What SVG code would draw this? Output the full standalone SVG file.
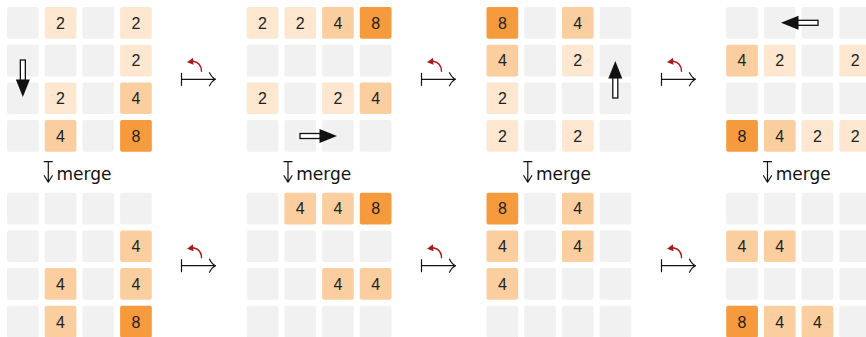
<svg xmlns="http://www.w3.org/2000/svg" xmlns:xlink="http://www.w3.org/1999/xlink" width="866" height="337" viewBox="0 0 866 337">
<style>
rect.e{fill:#f1f1f1}
rect.c2{fill:#fde7d1}
rect.c4{fill:#fbcea0}
rect.c8{fill:#f59b3e}
text.n{font-family:"Liberation Sans","DejaVu Sans",sans-serif;font-size:16px;fill:#222;text-anchor:middle}
text.m{font-family:"DejaVu Sans","Liberation Sans",sans-serif;font-size:18.5px;fill:#111}
.ln{fill:none;stroke:#111;stroke-width:1.2;stroke-linecap:round;stroke-linejoin:round}
.rd{fill:none;stroke:#a51d1d;stroke-width:1.4;stroke-linecap:round}
</style>
<defs>
<g id="mapsto">
<path class="ln" d="M0,-6 V6 M0,0 H33.5 M28,-6.5 Q30.5,-1.5 34,0 Q30.5,1.5 28,6.5"/>
<path class="rd" d="M20,-8 C20,-13 17,-17 11.5,-18"/>
<polygon points="5.5,-17 11.5,-21.5 12,-14.5" fill="#a51d1d"/>
</g>
<g id="dbl">
<rect x="0" y="-2.5" width="20.5" height="5" fill="#fff" stroke="#111" stroke-width="1.3"/>
<polygon points="19.5,-7 37,0 19.5,7" fill="#111"/>
</g>
<g id="mergearrow">
<path class="ln" d="M-4,0 H4 M0,0 V20 M-4,14 Q-1.5,18 0,20.5 Q1.5,18 4,14"/>
</g>
</defs>

<g id="grid-top-1">
<rect class="e" x="7" y="7" width="31.7" height="31.7" rx="2"/>
<rect class="c2" x="44.7" y="7" width="31.7" height="31.7" rx="2"/><text class="n" x="60.55" y="28.75">2</text>
<rect class="e" x="82.4" y="7" width="31.7" height="31.7" rx="2"/>
<rect class="c2" x="120.1" y="7" width="31.7" height="31.7" rx="2"/><text class="n" x="135.95" y="28.75">2</text>
<rect class="e" x="7" y="44.7" width="31.7" height="31.7" rx="2"/>
<rect class="e" x="44.7" y="44.7" width="31.7" height="31.7" rx="2"/>
<rect class="e" x="82.4" y="44.7" width="31.7" height="31.7" rx="2"/>
<rect class="c2" x="120.1" y="44.7" width="31.7" height="31.7" rx="2"/><text class="n" x="135.95" y="66.45">2</text>
<rect class="e" x="7" y="82.4" width="31.7" height="31.7" rx="2"/>
<rect class="c2" x="44.7" y="82.4" width="31.7" height="31.7" rx="2"/><text class="n" x="60.55" y="104.15">2</text>
<rect class="e" x="82.4" y="82.4" width="31.7" height="31.7" rx="2"/>
<rect class="c4" x="120.1" y="82.4" width="31.7" height="31.7" rx="2"/><text class="n" x="135.95" y="104.15">4</text>
<rect class="e" x="7" y="120.1" width="31.7" height="31.7" rx="2"/>
<rect class="c4" x="44.7" y="120.1" width="31.7" height="31.7" rx="2"/><text class="n" x="60.55" y="141.85">4</text>
<rect class="e" x="82.4" y="120.1" width="31.7" height="31.7" rx="2"/>
<rect class="c8" x="120.1" y="120.1" width="31.7" height="31.7" rx="2"/><text class="n" x="135.95" y="141.85">8</text>
<use xlink:href="#dbl" transform="translate(22.85,60) rotate(90)"/>
</g>

<g id="grid-top-2">
<rect class="c2" x="246.7" y="7" width="31.7" height="31.7" rx="2"/><text class="n" x="262.55" y="28.75">2</text>
<rect class="c2" x="284.4" y="7" width="31.7" height="31.7" rx="2"/><text class="n" x="300.25" y="28.75">2</text>
<rect class="c4" x="322.1" y="7" width="31.7" height="31.7" rx="2"/><text class="n" x="337.95" y="28.75">4</text>
<rect class="c8" x="359.8" y="7" width="31.7" height="31.7" rx="2"/><text class="n" x="375.65" y="28.75">8</text>
<rect class="e" x="246.7" y="44.7" width="31.7" height="31.7" rx="2"/>
<rect class="e" x="284.4" y="44.7" width="31.7" height="31.7" rx="2"/>
<rect class="e" x="322.1" y="44.7" width="31.7" height="31.7" rx="2"/>
<rect class="e" x="359.8" y="44.7" width="31.7" height="31.7" rx="2"/>
<rect class="c2" x="246.7" y="82.4" width="31.7" height="31.7" rx="2"/><text class="n" x="262.55" y="104.15">2</text>
<rect class="e" x="284.4" y="82.4" width="31.7" height="31.7" rx="2"/>
<rect class="c2" x="322.1" y="82.4" width="31.7" height="31.7" rx="2"/><text class="n" x="337.95" y="104.15">2</text>
<rect class="c4" x="359.8" y="82.4" width="31.7" height="31.7" rx="2"/><text class="n" x="375.65" y="104.15">4</text>
<rect class="e" x="246.7" y="120.1" width="31.7" height="31.7" rx="2"/>
<rect class="e" x="284.4" y="120.1" width="31.7" height="31.7" rx="2"/>
<rect class="e" x="322.1" y="120.1" width="31.7" height="31.7" rx="2"/>
<rect class="e" x="359.8" y="120.1" width="31.7" height="31.7" rx="2"/>
<use xlink:href="#dbl" transform="translate(300,136)"/>
</g>

<g id="grid-top-3">
<rect class="c8" x="486.5" y="7" width="31.7" height="31.7" rx="2"/><text class="n" x="502.35" y="28.75">8</text>
<rect class="e" x="524.2" y="7" width="31.7" height="31.7" rx="2"/>
<rect class="c4" x="561.9" y="7" width="31.7" height="31.7" rx="2"/><text class="n" x="577.75" y="28.75">4</text>
<rect class="e" x="599.6" y="7" width="31.7" height="31.7" rx="2"/>
<rect class="c4" x="486.5" y="44.7" width="31.7" height="31.7" rx="2"/><text class="n" x="502.35" y="66.45">4</text>
<rect class="e" x="524.2" y="44.7" width="31.7" height="31.7" rx="2"/>
<rect class="c2" x="561.9" y="44.7" width="31.7" height="31.7" rx="2"/><text class="n" x="577.75" y="66.45">2</text>
<rect class="e" x="599.6" y="44.7" width="31.7" height="31.7" rx="2"/>
<rect class="c2" x="486.5" y="82.4" width="31.7" height="31.7" rx="2"/><text class="n" x="502.35" y="104.15">2</text>
<rect class="e" x="524.2" y="82.4" width="31.7" height="31.7" rx="2"/>
<rect class="e" x="561.9" y="82.4" width="31.7" height="31.7" rx="2"/>
<rect class="e" x="599.6" y="82.4" width="31.7" height="31.7" rx="2"/>
<rect class="c2" x="486.5" y="120.1" width="31.7" height="31.7" rx="2"/><text class="n" x="502.35" y="141.85">2</text>
<rect class="e" x="524.2" y="120.1" width="31.7" height="31.7" rx="2"/>
<rect class="c2" x="561.9" y="120.1" width="31.7" height="31.7" rx="2"/><text class="n" x="577.75" y="141.85">2</text>
<rect class="e" x="599.6" y="120.1" width="31.7" height="31.7" rx="2"/>
<use xlink:href="#dbl" transform="translate(615.3,98) rotate(-90)"/>
</g>

<g id="grid-top-4">
<rect class="e" x="726.2" y="7" width="31.7" height="31.7" rx="2"/>
<rect class="e" x="763.9" y="7" width="31.7" height="31.7" rx="2"/>
<rect class="e" x="801.6" y="7" width="31.7" height="31.7" rx="2"/>
<rect class="e" x="839.3" y="7" width="31.7" height="31.7" rx="2"/>
<rect class="c4" x="726.2" y="44.7" width="31.7" height="31.7" rx="2"/><text class="n" x="742.05" y="66.45">4</text>
<rect class="c2" x="763.9" y="44.7" width="31.7" height="31.7" rx="2"/><text class="n" x="779.75" y="66.45">2</text>
<rect class="e" x="801.6" y="44.7" width="31.7" height="31.7" rx="2"/>
<rect class="c2" x="839.3" y="44.7" width="31.7" height="31.7" rx="2"/><text class="n" x="855.15" y="66.45">2</text>
<rect class="e" x="726.2" y="82.4" width="31.7" height="31.7" rx="2"/>
<rect class="e" x="763.9" y="82.4" width="31.7" height="31.7" rx="2"/>
<rect class="e" x="801.6" y="82.4" width="31.7" height="31.7" rx="2"/>
<rect class="e" x="839.3" y="82.4" width="31.7" height="31.7" rx="2"/>
<rect class="c8" x="726.2" y="120.1" width="31.7" height="31.7" rx="2"/><text class="n" x="742.05" y="141.85">8</text>
<rect class="c4" x="763.9" y="120.1" width="31.7" height="31.7" rx="2"/><text class="n" x="779.75" y="141.85">4</text>
<rect class="c2" x="801.6" y="120.1" width="31.7" height="31.7" rx="2"/><text class="n" x="817.45" y="141.85">2</text>
<rect class="c2" x="839.3" y="120.1" width="31.7" height="31.7" rx="2"/><text class="n" x="855.15" y="141.85">2</text>
<use xlink:href="#dbl" transform="translate(818,22.8) rotate(180)"/>
</g>

<g id="grid-bottom-1">
<rect class="e" x="7" y="192.7" width="31.7" height="31.7" rx="2"/>
<rect class="e" x="44.7" y="192.7" width="31.7" height="31.7" rx="2"/>
<rect class="e" x="82.4" y="192.7" width="31.7" height="31.7" rx="2"/>
<rect class="e" x="120.1" y="192.7" width="31.7" height="31.7" rx="2"/>
<rect class="e" x="7" y="230.4" width="31.7" height="31.7" rx="2"/>
<rect class="e" x="44.7" y="230.4" width="31.7" height="31.7" rx="2"/>
<rect class="e" x="82.4" y="230.4" width="31.7" height="31.7" rx="2"/>
<rect class="c4" x="120.1" y="230.4" width="31.7" height="31.7" rx="2"/><text class="n" x="135.95" y="252.15">4</text>
<rect class="e" x="7" y="268.1" width="31.7" height="31.7" rx="2"/>
<rect class="c4" x="44.7" y="268.1" width="31.7" height="31.7" rx="2"/><text class="n" x="60.55" y="289.85">4</text>
<rect class="e" x="82.4" y="268.1" width="31.7" height="31.7" rx="2"/>
<rect class="c4" x="120.1" y="268.1" width="31.7" height="31.7" rx="2"/><text class="n" x="135.95" y="289.85">4</text>
<rect class="e" x="7" y="305.8" width="31.7" height="31.7" rx="2"/>
<rect class="c4" x="44.7" y="305.8" width="31.7" height="31.7" rx="2"/><text class="n" x="60.55" y="327.55">4</text>
<rect class="e" x="82.4" y="305.8" width="31.7" height="31.7" rx="2"/>
<rect class="c8" x="120.1" y="305.8" width="31.7" height="31.7" rx="2"/><text class="n" x="135.95" y="327.55">8</text>
</g>

<g id="grid-bottom-2">
<rect class="e" x="246.7" y="192.7" width="31.7" height="31.7" rx="2"/>
<rect class="c4" x="284.4" y="192.7" width="31.7" height="31.7" rx="2"/><text class="n" x="300.25" y="214.45">4</text>
<rect class="c4" x="322.1" y="192.7" width="31.7" height="31.7" rx="2"/><text class="n" x="337.95" y="214.45">4</text>
<rect class="c8" x="359.8" y="192.7" width="31.7" height="31.7" rx="2"/><text class="n" x="375.65" y="214.45">8</text>
<rect class="e" x="246.7" y="230.4" width="31.7" height="31.7" rx="2"/>
<rect class="e" x="284.4" y="230.4" width="31.7" height="31.7" rx="2"/>
<rect class="e" x="322.1" y="230.4" width="31.7" height="31.7" rx="2"/>
<rect class="e" x="359.8" y="230.4" width="31.7" height="31.7" rx="2"/>
<rect class="e" x="246.7" y="268.1" width="31.7" height="31.7" rx="2"/>
<rect class="e" x="284.4" y="268.1" width="31.7" height="31.7" rx="2"/>
<rect class="c4" x="322.1" y="268.1" width="31.7" height="31.7" rx="2"/><text class="n" x="337.95" y="289.85">4</text>
<rect class="c4" x="359.8" y="268.1" width="31.7" height="31.7" rx="2"/><text class="n" x="375.65" y="289.85">4</text>
<rect class="e" x="246.7" y="305.8" width="31.7" height="31.7" rx="2"/>
<rect class="e" x="284.4" y="305.8" width="31.7" height="31.7" rx="2"/>
<rect class="e" x="322.1" y="305.8" width="31.7" height="31.7" rx="2"/>
<rect class="e" x="359.8" y="305.8" width="31.7" height="31.7" rx="2"/>
</g>

<g id="grid-bottom-3">
<rect class="c8" x="486.5" y="192.7" width="31.7" height="31.7" rx="2"/><text class="n" x="502.35" y="214.45">8</text>
<rect class="e" x="524.2" y="192.7" width="31.7" height="31.7" rx="2"/>
<rect class="c4" x="561.9" y="192.7" width="31.7" height="31.7" rx="2"/><text class="n" x="577.75" y="214.45">4</text>
<rect class="e" x="599.6" y="192.7" width="31.7" height="31.7" rx="2"/>
<rect class="c4" x="486.5" y="230.4" width="31.7" height="31.7" rx="2"/><text class="n" x="502.35" y="252.15">4</text>
<rect class="e" x="524.2" y="230.4" width="31.7" height="31.7" rx="2"/>
<rect class="c4" x="561.9" y="230.4" width="31.7" height="31.7" rx="2"/><text class="n" x="577.75" y="252.15">4</text>
<rect class="e" x="599.6" y="230.4" width="31.7" height="31.7" rx="2"/>
<rect class="c4" x="486.5" y="268.1" width="31.7" height="31.7" rx="2"/><text class="n" x="502.35" y="289.85">4</text>
<rect class="e" x="524.2" y="268.1" width="31.7" height="31.7" rx="2"/>
<rect class="e" x="561.9" y="268.1" width="31.7" height="31.7" rx="2"/>
<rect class="e" x="599.6" y="268.1" width="31.7" height="31.7" rx="2"/>
<rect class="e" x="486.5" y="305.8" width="31.7" height="31.7" rx="2"/>
<rect class="e" x="524.2" y="305.8" width="31.7" height="31.7" rx="2"/>
<rect class="e" x="561.9" y="305.8" width="31.7" height="31.7" rx="2"/>
<rect class="e" x="599.6" y="305.8" width="31.7" height="31.7" rx="2"/>
</g>

<g id="grid-bottom-4">
<rect class="e" x="726.2" y="192.7" width="31.7" height="31.7" rx="2"/>
<rect class="e" x="763.9" y="192.7" width="31.7" height="31.7" rx="2"/>
<rect class="e" x="801.6" y="192.7" width="31.7" height="31.7" rx="2"/>
<rect class="e" x="839.3" y="192.7" width="31.7" height="31.7" rx="2"/>
<rect class="c4" x="726.2" y="230.4" width="31.7" height="31.7" rx="2"/><text class="n" x="742.05" y="252.15">4</text>
<rect class="c4" x="763.9" y="230.4" width="31.7" height="31.7" rx="2"/><text class="n" x="779.75" y="252.15">4</text>
<rect class="e" x="801.6" y="230.4" width="31.7" height="31.7" rx="2"/>
<rect class="e" x="839.3" y="230.4" width="31.7" height="31.7" rx="2"/>
<rect class="e" x="726.2" y="268.1" width="31.7" height="31.7" rx="2"/>
<rect class="e" x="763.9" y="268.1" width="31.7" height="31.7" rx="2"/>
<rect class="e" x="801.6" y="268.1" width="31.7" height="31.7" rx="2"/>
<rect class="e" x="839.3" y="268.1" width="31.7" height="31.7" rx="2"/>
<rect class="c8" x="726.2" y="305.8" width="31.7" height="31.7" rx="2"/><text class="n" x="742.05" y="327.55">8</text>
<rect class="c4" x="763.9" y="305.8" width="31.7" height="31.7" rx="2"/><text class="n" x="779.75" y="327.55">4</text>
<rect class="c4" x="801.6" y="305.8" width="31.7" height="31.7" rx="2"/><text class="n" x="817.45" y="327.55">4</text>
<rect class="e" x="839.3" y="305.8" width="31.7" height="31.7" rx="2"/>
</g>

<g id="connectors">
<use xlink:href="#mapsto" x="181.5" y="79.3"/>
<use xlink:href="#mapsto" x="421.5" y="79.3"/>
<use xlink:href="#mapsto" x="661.5" y="79.3"/>
<use xlink:href="#mapsto" x="181.5" y="265.7"/>
<use xlink:href="#mapsto" x="421.5" y="265.7"/>
<use xlink:href="#mapsto" x="661.5" y="265.7"/>
<g>
<use xlink:href="#mergearrow" x="48.3" y="161.7"/><text class="m" x="56.5" y="180" textLength="55" lengthAdjust="spacingAndGlyphs">merge</text>
</g>
<g>
<use xlink:href="#mergearrow" x="288" y="161.7"/><text class="m" x="296.2" y="180" textLength="55" lengthAdjust="spacingAndGlyphs">merge</text>
</g>
<g>
<use xlink:href="#mergearrow" x="527.8" y="161.7"/><text class="m" x="536" y="180" textLength="55" lengthAdjust="spacingAndGlyphs">merge</text>
</g>
<g>
<use xlink:href="#mergearrow" x="767.5" y="161.7"/><text class="m" x="775.7" y="180" textLength="55" lengthAdjust="spacingAndGlyphs">merge</text>
</g>
</g>
</svg>
